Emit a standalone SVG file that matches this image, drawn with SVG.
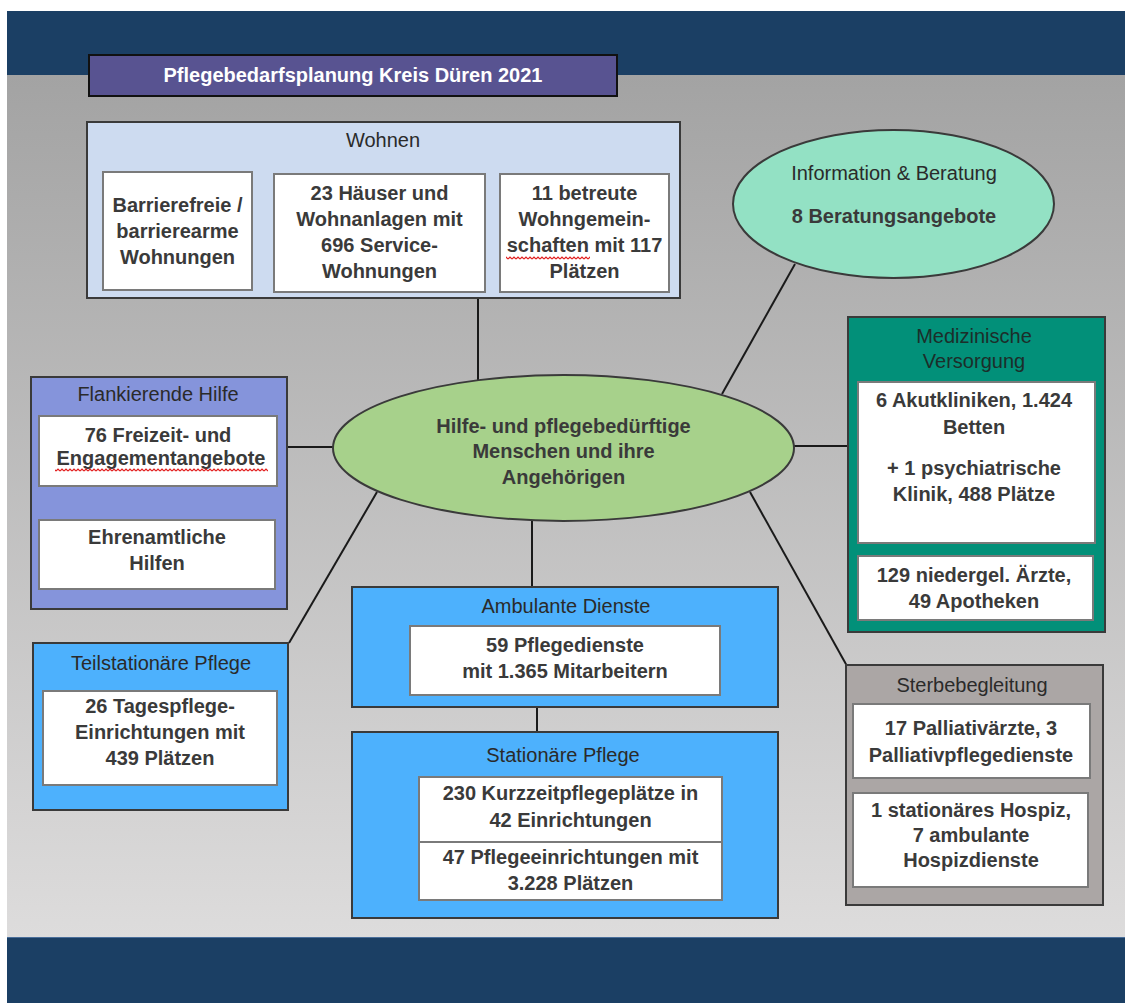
<svg xmlns="http://www.w3.org/2000/svg" width="1125" height="1003" viewBox="0 0 1125 1003">
  <defs>
    <linearGradient id="bg" x1="0" y1="0" x2="0" y2="1">
      <stop offset="0" stop-color="#a3a3a3"/>
      <stop offset="1" stop-color="#dddcdc"/>
    </linearGradient>
    <pattern id="wavy" width="4" height="4" patternUnits="userSpaceOnUse">
      <path d="M0 3 L2 1 L4 3" stroke="#e21b1b" fill="none" stroke-width="1.2"/>
    </pattern>
    <style>
      .t { font-family: "Liberation Sans", Arial, sans-serif; font-size: 20px; text-anchor: middle; }
      .h { fill: #2a2a2a; }
      .b { font-weight: bold; fill: #3a3a3a; }
      .outer { stroke: #3a3a3a; stroke-width: 2; }
      .inner { fill: #ffffff; stroke: #7a7a7a; stroke-width: 2; }
      .conn { stroke: #1a1a1a; stroke-width: 2; fill: none; }
    </style>
  </defs>

  <!-- background -->
  <rect x="0" y="0" width="1125" height="1003" fill="#ffffff"/>
  <rect x="7" y="11" width="1118" height="992" fill="#1b3f64"/>
  <rect x="7" y="75" width="1118" height="862" fill="url(#bg)"/>
  <line x1="7" y1="937.5" x2="1125" y2="937.5" stroke="#4a6e9a" stroke-width="1"/>

  <!-- connectors -->
  <g id="connectors">
    <line class="conn" x1="478" y1="298" x2="478" y2="380"/>
    <line class="conn" x1="795" y1="264" x2="722" y2="394"/>
    <line class="conn" x1="794" y1="446" x2="848" y2="446"/>
    <line class="conn" x1="287" y1="447" x2="333" y2="447"/>
    <line class="conn" x1="377" y1="492" x2="289" y2="643"/>
    <line class="conn" x1="532" y1="520" x2="532" y2="587"/>
    <line class="conn" x1="750" y1="492" x2="847" y2="666"/>
    <line class="conn" x1="537" y1="707" x2="537" y2="732"/>
  </g>

  <!-- title -->
  <g id="title">
    <rect x="89" y="55" width="528" height="41" fill="#585391" stroke="#111111" stroke-width="2"/>
    <text class="t" x="353" y="82" fill="#ffffff" font-weight="bold">Pflegebedarfsplanung Kreis Düren 2021</text>
  </g>

  <!-- Wohnen -->
  <g id="wohnen">
    <rect class="outer" x="87" y="122" width="593" height="176" fill="#cddbf0"/>
    <text class="t h" x="383" y="147">Wohnen</text>
    <rect class="inner" x="103" y="172" width="149" height="118" stroke="#555"/>
    <text class="t b" x="177.5" y="212">Barrierefreie /</text>
    <text class="t b" x="177.5" y="238">barrierearme</text>
    <text class="t b" x="177.5" y="264">Wohnungen</text>
    <rect class="inner" x="274" y="174" width="211" height="118" stroke="#555"/>
    <text class="t b" x="379.5" y="200">23 Häuser und</text>
    <text class="t b" x="379.5" y="226">Wohnanlagen mit</text>
    <text class="t b" x="379.5" y="252">696 Service-</text>
    <text class="t b" x="379.5" y="278">Wohnungen</text>
    <rect class="inner" x="500" y="174" width="169" height="118" stroke="#555"/>
    <text class="t b" x="584.5" y="200">11 betreute</text>
    <text class="t b" x="584.5" y="226">Wohngemein-</text>
    <text class="t b" x="584.5" y="252">schaften mit 117</text>
    <text class="t b" x="584.5" y="278">Plätzen</text>
    <rect x="506" y="256" width="84" height="4" fill="url(#wavy)"/>
  </g>

  <!-- Information & Beratung -->
  <g id="info">
    <ellipse cx="893.5" cy="204" rx="160.5" ry="74" fill="#93e1c4" stroke="#3a3a3a" stroke-width="2"/>
    <text class="t h" x="894" y="180">Information &amp; Beratung</text>
    <text class="t b" x="894" y="223">8 Beratungsangebote</text>
  </g>

  <!-- Medizinische Versorgung -->
  <g id="medizin">
    <rect class="outer" x="848" y="317" width="257" height="315" fill="#029079"/>
    <text class="t" x="974" y="343" fill="#1c2e2a">Medizinische</text>
    <text class="t" x="974" y="368" fill="#1c2e2a">Versorgung</text>
    <rect class="inner" x="858" y="382" width="237" height="161"/>
    <text class="t b" x="974" y="407">6 Akutkliniken, 1.424</text>
    <text class="t b" x="974" y="434">Betten</text>
    <text class="t b" x="974" y="475">+ 1 psychiatrische</text>
    <text class="t b" x="974" y="501">Klinik, 488 Plätze</text>
    <rect class="inner" x="858" y="556" width="235" height="64"/>
    <text class="t b" x="974" y="582">129 niedergel. Ärzte,</text>
    <text class="t b" x="974" y="608">49 Apotheken</text>
  </g>

  <!-- Flankierende Hilfe -->
  <g id="flankierend">
    <rect class="outer" x="31" y="377" width="256" height="232" fill="#8594db"/>
    <text class="t h" x="158" y="401">Flankierende Hilfe</text>
    <rect class="inner" x="39" y="416" width="238" height="70"/>
    <text class="t b" x="158" y="442">76 Freizeit- und</text>
    <text class="t b" x="161" y="465">Engagementangebote</text>
    <rect x="55" y="468" width="213" height="4" fill="url(#wavy)"/>
    <rect class="inner" x="39" y="520" width="236" height="69"/>
    <text class="t b" x="157" y="544">Ehrenamtliche</text>
    <text class="t b" x="157" y="570">Hilfen</text>
  </g>

  <!-- Zentrum -->
  <g id="zentrum">
    <ellipse cx="563.5" cy="448" rx="230.5" ry="73" fill="#a7d18b" stroke="#3a3a3a" stroke-width="2"/>
    <text class="t b" x="563.5" y="433">Hilfe- und pflegebedürftige</text>
    <text class="t b" x="563.5" y="458">Menschen und ihre</text>
    <text class="t b" x="563.5" y="484">Angehörigen</text>
  </g>

  <!-- Teilstationäre Pflege -->
  <g id="teilstationaer">
    <rect class="outer" x="33" y="643" width="255" height="167" fill="#4db1fd"/>
    <text class="t h" x="161" y="670">Teilstationäre Pflege</text>
    <rect class="inner" x="43" y="691" width="234" height="94"/>
    <text class="t b" x="160" y="713">26 Tagespflege-</text>
    <text class="t b" x="160" y="739">Einrichtungen mit</text>
    <text class="t b" x="160" y="765">439 Plätzen</text>
  </g>

  <!-- Ambulante Dienste -->
  <g id="ambulant">
    <rect class="outer" x="352" y="587" width="426" height="120" fill="#4db1fd"/>
    <text class="t h" x="566" y="613">Ambulante Dienste</text>
    <rect class="inner" x="410" y="626" width="310" height="69"/>
    <text class="t b" x="565" y="652">59 Pflegedienste</text>
    <text class="t b" x="565" y="678">mit 1.365 Mitarbeitern</text>
  </g>

  <!-- Stationäre Pflege -->
  <g id="stationaer">
    <rect class="outer" x="352" y="732" width="426" height="186" fill="#4db1fd"/>
    <text class="t h" x="563" y="762">Stationäre Pflege</text>
    <rect class="inner" x="419" y="777" width="303" height="123"/>
    <line x1="419" y1="842" x2="722" y2="842" stroke="#7a7a7a" stroke-width="2"/>
    <text class="t b" x="570.5" y="800">230 Kurzzeitpflegeplätze in</text>
    <text class="t b" x="570.5" y="827">42 Einrichtungen</text>
    <text class="t b" x="570.5" y="864">47 Pflegeeinrichtungen mit</text>
    <text class="t b" x="570.5" y="890">3.228 Plätzen</text>
  </g>

  <!-- Sterbebegleitung -->
  <g id="sterbebegleitung">
    <rect class="outer" x="846" y="665" width="257" height="240" fill="#aba6a5"/>
    <text class="t h" x="972" y="692">Sterbebegleitung</text>
    <rect class="inner" x="853" y="704" width="237" height="74"/>
    <text class="t b" x="971" y="735">17 Palliativärzte, 3</text>
    <text class="t b" x="971" y="762">Palliativpflegedienste</text>
    <rect class="inner" x="853" y="793" width="235" height="94"/>
    <text class="t b" x="971" y="817">1 stationäres Hospiz,</text>
    <text class="t b" x="971" y="842">7 ambulante</text>
    <text class="t b" x="971" y="867">Hospizdienste</text>
  </g>
</svg>
